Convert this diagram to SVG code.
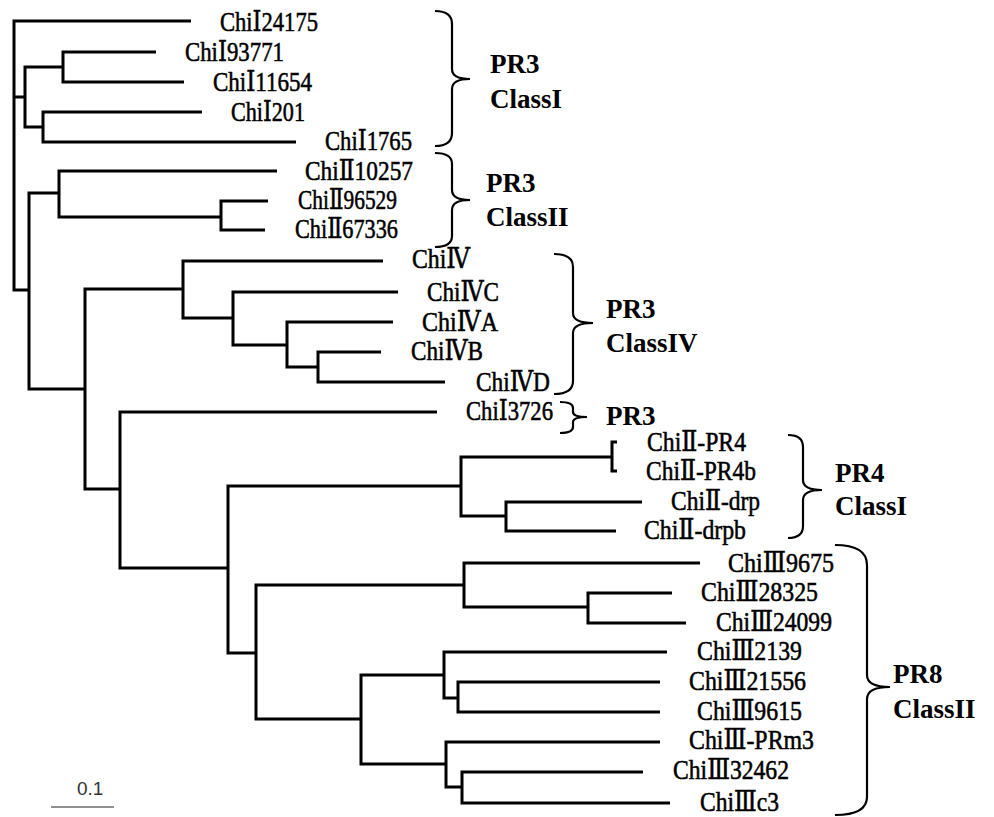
<svg xmlns="http://www.w3.org/2000/svg" width="994" height="817" viewBox="0 0 994 817">
<style>
.br{fill:none;stroke:#000;stroke-width:3;stroke-linejoin:miter}
.lf{font-family:'Liberation Serif','DejaVu Serif','Noto Sans CJK SC',serif;font-size:27px;fill:#000;stroke:#000;stroke-width:0.55}
.cl{font-family:'Liberation Serif','Noto Sans CJK SC',serif;font-size:27px;font-weight:bold;fill:#000}
.brace{fill:none;stroke:#000;stroke-width:2.2}
</style>
<rect width="994" height="817" fill="#fff"/>
<g id="connectors">
<path class="br" d="M191 21H14V290H29M14 97H25"/>
<path class="br" d="M63 67H25V127H43"/>
<path class="br" d="M156 52H63V82H184"/>
<path class="br" d="M202 112H43V142H296"/>
<path class="br" d="M59 193H29V389H85"/>
<path class="br" d="M277 171H59V217H221"/>
<path class="br" d="M268 201H221V230H265"/>
<path class="br" d="M183 289H85V489H120"/>
<path class="br" d="M383 261H183V318H233"/>
<path class="br" d="M398 292H233V345H287"/>
<path class="br" d="M393 322H287V367H318"/>
<path class="br" d="M381 352H318V382H445"/>
<path class="br" d="M437 412H120V568H228"/>
<path class="br" d="M461 486H228V653H256"/>
<path class="br" d="M612 457H461V516H506"/>
<path class="br" d="M617 442H612V471H617"/>
<path class="br" d="M642 502H506V531H616"/>
<path class="br" d="M464 585H256V719H361"/>
<path class="br" d="M700 563H464V607H588"/>
<path class="br" d="M672 593H588V623H686"/>
<path class="br" d="M444 675H361V764H446"/>
<path class="br" d="M667 652H444V698H458"/>
<path class="br" d="M660 682H458V712H660"/>
<path class="br" d="M660 742H446V787H462"/>
<path class="br" d="M643 772H462V803H670"/>
</g>
<g id="leaves">
<g id="n-ChiI24175"><text class="lf" x="220" y="31" textLength="98" lengthAdjust="spacingAndGlyphs">ChiⅠ24175</text></g>
<g id="n-ChiI93771"><text class="lf" x="185" y="61" textLength="99" lengthAdjust="spacingAndGlyphs">ChiⅠ93771</text></g>
<g id="n-ChiI11654"><text class="lf" x="213" y="91" textLength="99" lengthAdjust="spacingAndGlyphs">ChiⅠ11654</text></g>
<g id="n-ChiI201"><text class="lf" x="231" y="121" textLength="74" lengthAdjust="spacingAndGlyphs">ChiⅠ201</text></g>
<g id="n-ChiI1765"><text class="lf" x="325" y="150" textLength="87" lengthAdjust="spacingAndGlyphs">ChiⅠ1765</text></g>
<g id="n-ChiII10257"><text class="lf" x="305" y="180" textLength="108" lengthAdjust="spacingAndGlyphs">ChiⅡ10257</text></g>
<g id="n-ChiII96529"><text class="lf" x="298" y="209" textLength="99" lengthAdjust="spacingAndGlyphs">ChiⅡ96529</text></g>
<g id="n-ChiII67336"><text class="lf" x="295" y="238" textLength="103" lengthAdjust="spacingAndGlyphs">ChiⅡ67336</text></g>
<g id="n-ChiIV"><text class="lf" x="412" y="268" textLength="58" lengthAdjust="spacingAndGlyphs">ChiⅣ</text></g>
<g id="n-ChiIVC"><text class="lf" x="427" y="301" textLength="72" lengthAdjust="spacingAndGlyphs">ChiⅣC</text></g>
<g id="n-ChiIVA"><text class="lf" x="422" y="331" textLength="76" lengthAdjust="spacingAndGlyphs">ChiⅣA</text></g>
<g id="n-ChiIVB"><text class="lf" x="411" y="360" textLength="72" lengthAdjust="spacingAndGlyphs">ChiⅣB</text></g>
<g id="n-ChiIVD"><text class="lf" x="476" y="391" textLength="74" lengthAdjust="spacingAndGlyphs">ChiⅣD</text></g>
<g id="n-ChiI3726"><text class="lf" x="466" y="420" textLength="87" lengthAdjust="spacingAndGlyphs">ChiⅠ3726</text></g>
<g id="n-ChiII-PR4"><text class="lf" x="647" y="451" textLength="99" lengthAdjust="spacingAndGlyphs">ChiⅡ-PR4</text></g>
<g id="n-ChiII-PR4b"><text class="lf" x="646" y="480" textLength="110" lengthAdjust="spacingAndGlyphs">ChiⅡ-PR4b</text></g>
<g id="n-ChiII-drp"><text class="lf" x="671" y="510" textLength="89" lengthAdjust="spacingAndGlyphs">ChiⅡ-drp</text></g>
<g id="n-ChiII-drpb"><text class="lf" x="644" y="539" textLength="102" lengthAdjust="spacingAndGlyphs">ChiⅡ-drpb</text></g>
<g id="n-ChiIII9675"><text class="lf" x="728" y="572" textLength="106" lengthAdjust="spacingAndGlyphs">ChiⅢ9675</text></g>
<g id="n-ChiIII28325"><text class="lf" x="701" y="601" textLength="117" lengthAdjust="spacingAndGlyphs">ChiⅢ28325</text></g>
<g id="n-ChiIII24099"><text class="lf" x="716" y="631" textLength="116" lengthAdjust="spacingAndGlyphs">ChiⅢ24099</text></g>
<g id="n-ChiIII2139"><text class="lf" x="697" y="660" textLength="105" lengthAdjust="spacingAndGlyphs">ChiⅢ2139</text></g>
<g id="n-ChiIII21556"><text class="lf" x="689" y="690" textLength="117" lengthAdjust="spacingAndGlyphs">ChiⅢ21556</text></g>
<g id="n-ChiIII9615"><text class="lf" x="697" y="720" textLength="105" lengthAdjust="spacingAndGlyphs">ChiⅢ9615</text></g>
<g id="n-ChiIII-PRm3"><text class="lf" x="689" y="749" textLength="125" lengthAdjust="spacingAndGlyphs">ChiⅢ-PRm3</text></g>
<g id="n-ChiIII32462"><text class="lf" x="673" y="779" textLength="116" lengthAdjust="spacingAndGlyphs">ChiⅢ32462</text></g>
<g id="n-ChiIIIc3"><text class="lf" x="700" y="811" textLength="79" lengthAdjust="spacingAndGlyphs">ChiⅢc3</text></g>
</g>
<g id="groups">
<g id="g-PR3-ClassI">
<path class="brace" d="M435 11Q452 11 452 24V69Q452 79 470 79Q452 79 452 89V133Q452 146 435 146"/>
<text class="cl" x="490" y="73">PR3</text><text class="cl" x="490" y="108">ClassI</text>
</g>
<g id="g-PR3-ClassII">
<path class="brace" d="M435 153Q452 153 452 164V190Q452 200 470 200Q452 200 452 210V236Q452 247 435 247"/>
<text class="cl" x="486" y="192">PR3</text><text class="cl" x="486" y="226">ClassII</text>
</g>
<g id="g-PR3-ClassIV">
<path class="brace" d="M554 254Q573 254 573 267V313Q573 323 593 323Q573 323 573 333V381Q573 394 554 394"/>
<text class="cl" x="606" y="318">PR3</text><text class="cl" x="606" y="352">ClassIV</text>
</g>
<g id="g-PR3">
<path class="brace" d="M560 402Q573 402 573 408V412Q573 417 587 417Q573 417 573 422V427Q573 433 560 433"/>
<text class="cl" x="606" y="425">PR3</text>
</g>
<g id="g-PR4-ClassI">
<path class="brace" d="M788 435Q803 435 803 447V480Q803 490 822 490Q803 490 803 500V526Q803 538 788 538"/>
<text class="cl" x="835" y="482">PR4</text><text class="cl" x="835" y="515">ClassI</text>
</g>
<g id="g-PR8-ClassII">
<path class="brace" d="M835 545Q867 545 867 565V675Q867 687 890 687Q867 687 867 699V797Q867 815 835 815"/>
<text class="cl" x="893" y="683">PR8</text><text class="cl" x="893" y="718">ClassII</text>
</g>
</g>
<g id="scale">
<line x1="51" y1="807" x2="114" y2="807" stroke="#222" stroke-width="1.2"/>
<text x="77" y="795" font-family="'Liberation Sans',Arial,sans-serif" font-size="19" fill="#333">0.1</text>
</g>
</svg>
